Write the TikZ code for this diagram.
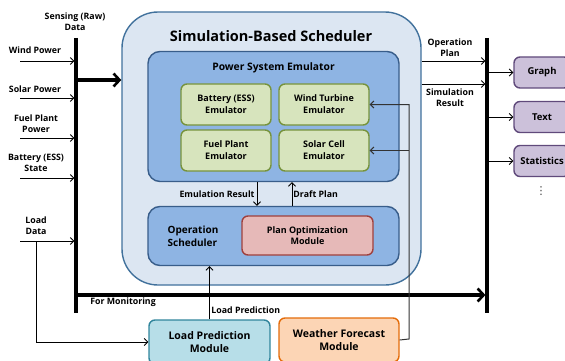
\documentclass[tikz,border=0pt]{standalone}
\usepackage{fontspec}
\setmainfont{Open Sans}
\newfontfamily\symfont{DejaVu Sans}
\usetikzlibrary{arrows.meta}

\definecolor{schedfill}{HTML}{DCE6F2}
\definecolor{schedline}{HTML}{41719C}
\definecolor{emufill}{HTML}{8EB4E3}
\definecolor{emuline}{HTML}{385D8A}
\definecolor{greenfill}{HTML}{D7E4BD}
\definecolor{greenline}{HTML}{77933C}
\definecolor{redfill}{HTML}{E6B9B8}
\definecolor{redline}{HTML}{A0403D}
\definecolor{cyanfill}{HTML}{B7DEE8}
\definecolor{cyanline}{HTML}{31859C}
\definecolor{orangefill}{HTML}{FCD5B5}
\definecolor{orangeline}{HTML}{E46C0A}
\definecolor{purplefill}{HTML}{CCC1DA}
\definecolor{purpleline}{HTML}{604A7B}
\definecolor{wire}{HTML}{333333}

\begin{document}
\begin{tikzpicture}[x=1pt,y=-1pt,
    font=\bfseries\fontsize{8.8}{11}\selectfont,
    every node/.append style={align=center},
    box/.style={draw,line width=1.4pt,rounded corners=6pt,inner sep=0pt},
    emubox/.style={box,fill=greenfill,draw=greenline,minimum width=90pt,minimum height=41pt,font=\bfseries\fontsize{9}{12}\selectfont},
    outbox/.style={box,fill=purplefill,draw=purpleline,minimum width=56pt,minimum height=31pt,font=\bfseries\fontsize{9.5}{11}\selectfont},
    arr/.style={-{Straight Barb[length=3.5pt,width=7pt]},line width=0.9pt},
    bus/.style={line width=3.2pt},
    bigarr/.style={-{Straight Barb[length=6pt,width=13pt,line width=2.6pt]},line width=3.2pt}]
    \useasboundingbox (0,0) rectangle (565,361);

    \node[box,fill=schedfill,draw=schedline,rounded corners=36pt,minimum width=299pt,minimum height=273pt] (sched) at (271.5,148.5) {};
    \node[font=\bfseries\fontsize{14.5}{16}\selectfont] (schedtitle) at (271,36) {Simulation-Based Scheduler};
    \node[box,fill=emufill,draw=emuline,rounded corners=12pt,minimum width=251pt,minimum height=130pt] (pse) at (273.5,116.5) {};
    \node[font=\bfseries\fontsize{10.3}{11}\selectfont] (psetitle) at (273.5,68) {Power System Emulator};
    \node[emubox] (battery) at (226,104.5) {Battery (ESS)\\Emulator};
    \node[emubox] (wind) at (324,104.5) {Wind Turbine\\Emulator};
    \node[emubox] (fuel) at (226,150.5) {Fuel Plant\\Emulator};
    \node[emubox] (solar) at (324,150.5) {Solar Cell\\Emulator};
    \node[box,fill=emufill,draw=emuline,rounded corners=12pt,minimum width=251pt,minimum height=59pt] (opsched) at (273.5,236) {};
    \node[align=left,font=\bfseries\fontsize{10}{13}\selectfont] (opschedtext) at (193,236) {Operation\\Scheduler};
    \node[box,fill=redfill,draw=redline,minimum width=131pt,minimum height=39pt,font=\bfseries\fontsize{9}{11.5}\selectfont] (planopt) at (307.5,235.5) {Plan Optimization\\Module};
    \node[box,fill=cyanfill,draw=cyanline,minimum width=121pt,minimum height=44pt,font=\bfseries\fontsize{10.5}{13}\selectfont] (loadpred) at (209.5,342) {Load Prediction\\Module};
    \node[box,fill=orangefill,draw=orangeline,minimum width=120pt,minimum height=44pt,font=\bfseries\fontsize{10.5}{13}\selectfont] (weather) at (339,340) {Weather Forecast\\Module};

    \coordinate (sbus top) at (76,38);
    \coordinate (sbus bot) at (76,313);
    \draw[bus] (sbus top) -- (sbus bot);
    \node (sensing) at (75,22) {Sensing (Raw)\\Data};
    \node (windlbl) at (35,50) {Wind Power};
    \node (solarlbl) at (35,89) {Solar Power};
    \node (fuellbl) at (36,123.5) {Fuel Plant\\Power};
    \node (batterylbl) at (36,162.5) {Battery (ESS)\\State};
    \node (loadlbl) at (36,225.5) {Load\\Data};
    \coordinate (windin) at (20,61);
    \coordinate (solarin) at (20,98);
    \coordinate (fuelin) at (20,138);
    \coordinate (batteryin) at (20,178);
    \coordinate (loadin) at (20,241);
    \coordinate (loadsplit) at (36,241);
    \draw[arr,shorten >=1.6pt] (windin) -- (windin -| sbus top);
    \draw[arr,shorten >=1.6pt] (solarin) -- (solarin -| sbus top);
    \draw[arr,shorten >=1.6pt] (fuelin) -- (fuelin -| sbus top);
    \draw[arr,shorten >=1.6pt] (batteryin) -- (batteryin -| sbus top);
    \draw[arr,shorten >=1.6pt] (loadin) -- (loadin -| sbus top);
    \draw[arr] (loadsplit) |- (loadpred.west);

    \coordinate (toscheds) at (76,80);
    \draw[bigarr] (toscheds) -- (toscheds -| sched.west);

    \coordinate (obus top) at (487,38);
    \coordinate (obus bot) at (487,313);
    \draw[bus] (obus top) -- (obus bot);
    \coordinate (monitor) at (76,295);
    \draw[bigarr,shorten >=1.6pt] (monitor) -- (monitor -| obus top);
    \node (monlbl) at (123,302) {For Monitoring};

    \coordinate (opplan) at (0,61);
    \coordinate (simres) at (0,84);
    \draw[arr,shorten >=1.6pt] (opplan -| sched.east) -- (opplan -| obus top);
    \draw[arr,shorten >=1.6pt] (simres -| sched.east) -- (simres -| obus top);
    \node (opplanlbl) at (450,47.5) {Operation\\Plan};
    \node (simreslbl) at (450,97.5) {Simulation\\Result};

    \node[outbox] (graph) at (542,72.5) {Graph};
    \node[outbox] (text) at (542,117) {Text};
    \node[outbox] (stats) at (542,161) {Statistics};
    \node[text=darkgray,font=\symfont\fontsize{11}{12}\selectfont] (more) at (541,191) {⋮};
    \draw[arr] (graph.west -| obus top) -- (graph.west);
    \draw[arr] (text.west -| obus top) -- (text.west);
    \draw[arr] (stats.west -| obus top) -- (stats.west);

    \coordinate (emu) at (257,0);
    \coordinate (draft) at (292,0);
    \draw[arr] (emu |- pse.south) -- (emu |- opsched.north) node[midway,left,inner sep=2pt] {Emulation Result};
    \draw[arr] (draft |- opsched.north) -- (draft |- pse.south) node[midway,right,inner sep=1pt] {Draft Plan};
    \draw[arr] (loadpred.north) -- (loadpred.north |- opsched.south) node[pos=0.17,right,inner sep=1.5pt] {Load Prediction};

    \coordinate (wvert) at (409,339);
    \draw[arr,wire,line width=1pt] (weather.east) -- (wvert) |- (wind.east);
    \draw[arr,wire,line width=1pt] (wvert |- solar.east) -- (solar.east);
\end{tikzpicture}
\end{document}
